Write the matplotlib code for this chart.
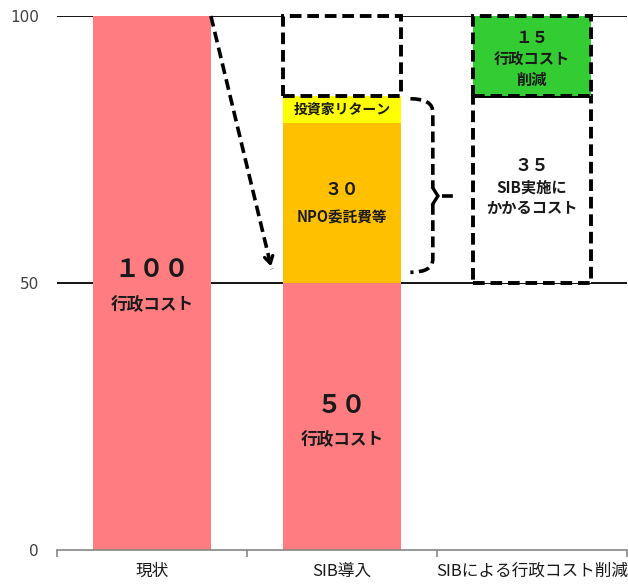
import matplotlib
matplotlib.use("Agg")
import matplotlib.pyplot as plt
from matplotlib.path import Path
from matplotlib.patches import PathPatch

plt.rcParams['font.family'] = ['Noto Sans CJK JP', 'DejaVu Sans']

# ---- data ----
categories = ['現状', 'SIB導入', 'SIBによる行政コスト削減']
admin_cost = [100, 50, 0]          # 行政コスト (pink)
npo_cost = [0, 30, 0]              # NPO委託費等 (orange)
investor_return = [0, 5, 0]        # 投資家リターン (yellow)
unused = [0, 15, 0]                # dashed empty box above SIB導入
sib_cost = [0, 0, 35]              # SIB実施にかかるコスト (dashed box)
reduction = [0, 0, 15]             # 行政コスト削減 (green)
yticks = [0, 50, 100]

pink = '#FF7C80'
orange = '#FFC000'
yellow = '#FFFF00'
green = '#33CC33'

fig = plt.figure(figsize=(6.28, 5.86), dpi=100)
ax = fig.add_axes([57/628, 36/586, 570/628, 534/586])
ax.set_xlim(-0.5, 2.5)
ax.set_ylim(0, 100)

x = list(range(len(categories)))
w = 0.62
dash = (0, (3.0, 1.5))

# gridlines
for yv in [50, 100]:
    ax.axhline(yv, color='black', lw=1.3, zorder=1)

# stacked bars
ax.bar(x, admin_cost, width=w, color=pink, zorder=2)
b1 = [a for a in admin_cost]
ax.bar(x, npo_cost, width=w, bottom=b1, color=orange, zorder=2)
b2 = [a + n for a, n in zip(b1, npo_cost)]
ax.bar(x, investor_return, width=w, bottom=b2, color=yellow, zorder=2)
b3 = [a + n for a, n in zip(b2, investor_return)]
ax.bar([1], [unused[1]], width=w, bottom=[b3[1]], facecolor='white',
       edgecolor='black', lw=2.8, linestyle=dash, zorder=3, clip_on=False)

sib_bottom = admin_cost[1]
ax.bar([2], [sib_cost[2]], width=w, bottom=[sib_bottom], facecolor='white',
       edgecolor='black', lw=2.8, linestyle=dash, zorder=3, clip_on=False)
ax.bar([2], [reduction[2]], width=w, bottom=[sib_bottom + sib_cost[2]], facecolor=green,
       edgecolor='black', lw=2.8, linestyle=dash, zorder=3, clip_on=False)

# labels
bold = dict(ha='center', va='center', fontweight='bold', color='#1a1a1a', zorder=5)
ax.text(0, 52.4, '１００', fontsize=18, **bold)
ax.text(0, 45.9, '行政コスト', fontsize=12, **bold)
ax.text(1, 27.0, '５０', fontsize=18, **bold)
ax.text(1, 20.6, '行政コスト', fontsize=12, **bold)
ax.text(1, 67.4, '３０', fontsize=12.5, **bold)
ax.text(1, 62.2, 'NPO委託費等', fontsize=10.5, **bold)
ax.text(1, 82.4, '投資家リターン', fontsize=10, **bold)
ax.text(2, 95.9, '１５', fontsize=12, **bold)
ax.text(2, 91.9, '行政コスト', fontsize=11, **bold)
ax.text(2, 88.0, '削減', fontsize=11, **bold)
ax.text(2, 72.0, '３５', fontsize=12.5, **bold)
ax.text(2, 67.8, 'SIB実施に', fontsize=11, **bold)
ax.text(2, 64.0, 'かかるコスト', fontsize=11, **bold)

# dashed arrow from top of 現状 to SIB導入
x0, y0 = 0 + w/2, 100
x1, y1 = 0.63, 52.6
ax.plot([x0, x1], [y0, y1], color='black', lw=2.6, linestyle=dash, zorder=4,
        clip_on=False, dash_capstyle='butt')
dx, dy = x1 - x0, y1 - y0
ax.annotate('', xy=(x1, y1), xytext=(x1 - dx*0.05, y1 - dy*0.05),
            arrowprops=dict(arrowstyle='->,head_length=0.5,head_width=0.3',
                            color='black', lw=2.4), zorder=4)

# curly brace
xs, xv, xt, xe = 1.36, 1.478, 1.505, 1.61
yt, yb, ym = 84.5, 52.0, 66.3
verts = [(xs, yt), (xv, yt), (xv, yt - 2.5), (xv, ym + 1.5)]
codes = [Path.MOVETO, Path.CURVE3, Path.CURVE3, Path.LINETO]
ax.add_patch(PathPatch(Path(verts, codes), fill=False, lw=2.6, linestyle=dash, zorder=4))
verts2 = [(xv, ym - 1.5), (xv, yb + 2.5), (xv, yb), (xs, yb)]
codes2 = [Path.MOVETO, Path.LINETO, Path.CURVE3, Path.CURVE3]
ax.add_patch(PathPatch(Path(verts2, codes2), fill=False, lw=2.6, linestyle=dash, zorder=4))
ax.plot([xv, xt, xv], [ym + 1.5, ym, ym - 1.5], color='black', lw=2.4, zorder=4,
        solid_joinstyle='miter')
ax.plot([xt + 0.02, xe], [ym, ym], color='black', lw=2.6, linestyle=dash, zorder=4)

# axes styling
for s in ['left', 'right', 'top']:
    ax.spines[s].set_visible(False)
ax.spines['bottom'].set_color('#868686')
ax.spines['bottom'].set_linewidth(1.2)
ax.set_yticks(yticks)
ax.set_yticklabels([str(v) for v in yticks], fontsize=11, color='#404040',
                   family=['DejaVu Sans'])
ax.tick_params(axis='y', length=0, pad=13)
ax.set_xticks(x)
ax.set_xticklabels(categories, fontsize=12, color='#1a1a1a')
ax.set_xticks([-0.5, 0.5, 1.5, 2.5], minor=True)
ax.tick_params(axis='x', which='major', length=0, pad=9)
ax.tick_params(axis='x', which='minor', length=5, width=1.2, color='#868686')

fig.savefig('out.png', dpi=100)
